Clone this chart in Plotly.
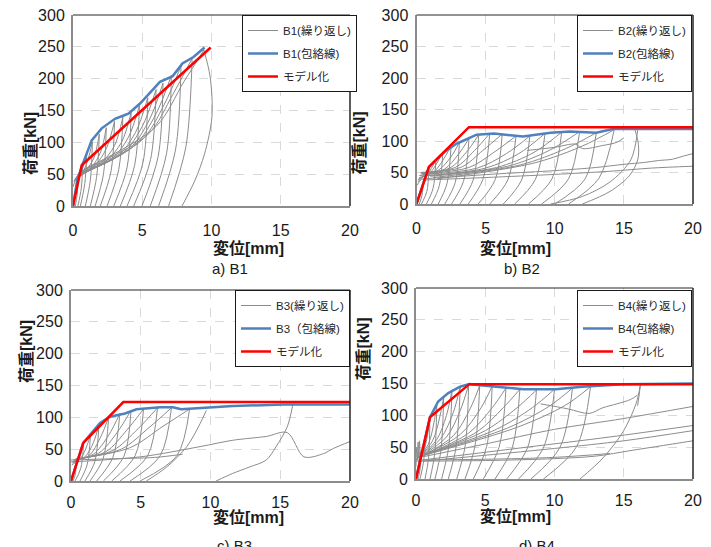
import plotly.graph_objects as go

# page is 711x547; the html body has an 8px margin, so the figure itself is 703x539
PAGE_W, PAGE_H = 711, 547
OFF = 8
W, H = PAGE_W - OFF, PAGE_H - OFF

# ---------------- data ----------------
names = ["B1", "B2", "B3", "B4"]
panel_labels = ["a) B1", "b) B2", "c) B3", "d) B4"]
legend_cyc = ["B1(繰り返し)", "B2(繰り返し)", "B3(繰り返し)", "B4(繰り返し)"]
legend_env = ["B1(包絡線)", "B2(包絡線)", "B3（包絡線)", "B4(包絡線)"]
legend_model = "モデル化"

x_ticks = [0, 5, 10, 15, 20]
y_ticks = [0, 50, 100, 150, 200, 250, 300]

# envelopes (blue)
B1_env_x = [0, 0.3, 0.72, 1.35, 2.07, 3.03, 3.75, 4.0, 4.84, 5.5, 6.28, 7.2, 7.9, 8.7, 9.5]
B1_env_y = [0, 40, 67, 103, 122, 137, 143, 145, 161, 176, 195, 204, 224, 234, 249]
B2_env_x = [0, 0.9, 2.0, 2.9, 3.14, 4.35, 5.6, 6.5, 7.7, 9.7, 11.1, 13.0, 14.2, 20]
B2_env_y = [0, 59, 82, 96, 98, 110, 112, 110, 107, 113, 115, 113, 119, 119]
B3_env_x = [0, 0.88, 2.08, 2.8, 3.87, 4.7, 6.38, 7.3, 7.9, 9.7, 11.6, 15.2, 20]
B3_env_y = [0, 60, 91, 101, 106, 112.6, 115.7, 115.7, 112.6, 115.7, 117.8, 120, 120]
B4_env_x = [0, 1.01, 1.6, 2.33, 3.18, 3.85, 5.8, 7.75, 10.1, 12.0, 15.0, 20]
B4_env_y = [0, 97, 121.7, 135, 145, 149, 145, 141, 141, 145, 149, 150]

# bilinear / trilinear models (red)
B1_mod_x = [0, 0.63, 9.94]
B1_mod_y = [0, 64, 249]
B2_mod_x = [0, 0.9, 3.79, 20]
B2_mod_y = [0, 59, 122, 122]
B3_mod_x = [0, 0.88, 3.75, 20]
B3_mod_y = [0, 60, 124, 124]
B4_mod_x = [0, 1.01, 3.85, 20]
B4_mod_y = [0, 97, 149, 149]

# cyclic curves (grey): each entry is one branch
B1_cyc_x = [
    [0.0, 0.2, 0.4], [0.05, 0.4, 0.7], [0.1, 0.6, 1.0], [0.1, 0.8, 1.4],
    [0.15, 1.0, 1.5, 1.9], [0.2, 1.3, 2.0, 2.4], [0.2, 1.6, 2.4, 3.0],
    [0.25, 2.0, 3.0, 3.6], [0.3, 2.4, 3.5, 4.2], [0.3, 2.8, 4.0, 4.8],
    [0.35, 3.2, 4.5, 5.4], [0.4, 3.6, 5.0, 6.0], [0.45, 4.0, 5.5, 6.5],
    [0.5, 4.4, 6.0, 7.1], [0.6, 4.9, 6.6, 7.8], [0.8, 5.4, 7.2, 8.6],
    [1.0, 6.0, 8.0, 9.45],
    [0.4, 0.3, 0.17], [0.7, 0.6, 0.35], [1.0, 0.85, 0.53], [1.4, 1.25, 0.89],
    [1.9, 1.7, 1.25], [2.4, 2.2, 1.6], [3.0, 2.75, 1.97], [3.6, 3.3, 2.46],
    [4.2, 3.9, 2.94], [4.8, 4.45, 3.42], [5.4, 5.05, 3.9], [6.0, 5.6, 4.38],
    [6.5, 6.15, 4.98], [7.1, 6.75, 5.58], [7.8, 7.4, 6.18], [8.6, 8.15, 6.9],
    [9.45, 9.9, 10.03, 9.5, 8.8, 7.87],
]
B1_cyc_y = [
    [30, 42, 50], [38, 50, 68], [40, 54, 85], [42, 57, 100],
    [40, 58, 75, 113], [42, 60, 85, 123], [45, 64, 90, 133],
    [45, 67, 95, 140], [47, 71, 100, 147], [48, 74, 108, 158],
    [50, 78, 115, 170], [50, 83, 125, 183], [52, 88, 135, 193],
    [52, 94, 145, 205], [55, 102, 160, 220], [58, 112, 175, 232],
    [60, 125, 195, 245],
    [50, 18, 0], [68, 28, 0], [85, 35, 0], [100, 40, 0],
    [113, 45, 0], [123, 50, 0], [133, 55, 0], [140, 57, 0],
    [147, 60, 0], [158, 64, 0], [170, 68, 0], [183, 73, 0],
    [193, 78, 0], [205, 82, 0], [220, 88, 0], [232, 93, 0],
    [245, 203, 140, 82, 40, 0],
]

B2_cyc_x = [
    [0.05, 0.3, 0.5], [0.1, 0.5, 0.9], [0.1, 0.8, 1.4], [0.15, 1.0, 1.9],
    [0.2, 1.3, 2.5], [0.2, 1.6, 2.5, 3.1], [0.25, 2.0, 3.0, 3.8],
    [0.3, 2.4, 3.6, 4.5], [0.3, 2.8, 4.2, 5.3], [0.35, 3.2, 4.8, 6.2],
    [0.4, 3.8, 5.6, 7.2], [0.5, 4.4, 6.5, 8.2], [0.6, 5.0, 7.4, 9.3],
    [0.8, 5.8, 8.5, 10.5], [1.0, 6.6, 9.6, 11.8], [1.2, 7.5, 10.8, 13.0],
    [1.5, 8.5, 12.0, 14.3],
    [0.5, 0.4, 0.2], [0.9, 0.75, 0.36], [1.4, 1.2, 0.72], [1.9, 1.65, 1.08],
    [2.5, 2.2, 1.57], [3.1, 2.8, 2.05], [3.8, 3.4, 2.53], [4.5, 4.1, 3.14],
    [5.3, 4.8, 3.74], [6.2, 5.7, 4.46], [7.2, 6.6, 5.3], [8.2, 7.6, 6.28],
    [9.3, 8.6, 7.1], [10.5, 9.8, 8.1], [11.8, 11.0, 9.05], [13.0, 12.2, 10.0],
    [14.3, 13.2, 11.0],
    [9.7, 12.0, 14.0, 15.5, 16.0],
    [15.8, 16.05, 16.0, 15.4, 14.0, 12.0],
    [0.5, 6.0, 10.0, 13.0, 15.0, 16.5, 17.5, 18.5, 19.3, 20.0],
    [0.5, 5.0, 10.0, 14.0, 17.0, 20.0],
    [8.0, 10.0, 11.5, 12.0, 13.5, 14.5, 15.0],
]
B2_cyc_y = [
    [30, 38, 40], [35, 45, 58], [38, 48, 70], [40, 50, 82],
    [42, 52, 92], [45, 54, 75, 98], [45, 55, 78, 104],
    [48, 57, 82, 110], [50, 58, 85, 112], [50, 58, 85, 111],
    [48, 58, 82, 108], [47, 57, 80, 108], [45, 57, 80, 112],
    [45, 58, 82, 114], [44, 60, 85, 115], [42, 62, 88, 113],
    [40, 65, 92, 118],
    [40, 14, 0], [58, 20, 0], [70, 25, 0], [82, 29, 0],
    [92, 32, 0], [98, 34, 0], [104, 36, 0], [110, 38, 0],
    [112, 39, 0], [111, 39, 0], [108, 38, 0], [108, 38, 0],
    [112, 39, 0], [114, 40, 0], [115, 40, 0], [113, 40, 0],
    [118, 41, 0],
    [0, 12, 35, 70, 117],
    [118, 95, 70, 45, 20, 0],
    [40, 48, 53, 58, 63, 66, 69, 71, 76, 80],
    [38, 42, 47, 52, 57, 60],
    [85, 90, 95, 88, 93, 98, 105],
]

B3_cyc_x = [
    [0.05, 0.25, 0.4], [0.1, 0.5, 0.9], [0.1, 0.7, 1.4], [0.15, 1.0, 1.6, 2.0],
    [0.2, 1.3, 2.1, 2.7], [0.2, 1.6, 2.7, 3.5], [0.25, 2.0, 3.3, 4.3],
    [0.3, 2.5, 4.0, 5.2], [0.3, 3.0, 4.8, 6.2], [0.35, 3.6, 5.6, 7.2],
    [0.4, 4.2, 6.6, 8.5],
    [0.4, 0.3, 0.15], [0.9, 0.7, 0.29], [1.4, 1.15, 0.645], [2.0, 1.7, 1.0],
    [2.7, 2.3, 1.36], [3.5, 3.0, 1.84], [4.3, 3.8, 2.32], [5.2, 4.6, 2.92],
    [6.2, 5.5, 3.51], [7.2, 6.4, 4.23], [8.5, 7.6, 4.95],
    [5.4, 6.86, 8.3, 9.25, 9.7],
    [10.4, 11.6, 12.8, 14.0, 14.7, 15.5, 15.9],
    [0.0, 5.0, 9.25, 11.6, 14.0, 15.5, 16.7, 18.1, 18.8, 20.0],
    [0.0, 3.0, 6.0, 8.0],
]
B3_cyc_y = [
    [25, 28, 30], [28, 33, 58], [30, 36, 72], [30, 38, 60, 88],
    [32, 40, 68, 100], [33, 42, 72, 106], [33, 44, 76, 111],
    [34, 46, 80, 113], [34, 48, 82, 115], [35, 50, 84, 115],
    [35, 52, 86, 113],
    [30, 10, 0], [58, 20, 0], [72, 25, 0], [88, 30, 0],
    [100, 35, 0], [106, 37, 0], [111, 39, 0], [113, 40, 0],
    [115, 40, 0], [115, 40, 0], [113, 40, 0],
    [0, 22, 54, 90, 111],
    [0, 12, 22, 33, 54, 85, 120],
    [30, 38, 54, 64, 70, 76, 38, 43, 51, 62],
    [33, 35, 37, 42],
]

B4_cyc_x = [
    [0.05, 0.2, 0.4], [0.05, 0.4, 0.7], [0.1, 0.6, 1.0], [0.1, 0.9, 1.5],
    [0.15, 1.2, 2.0], [0.2, 1.5, 2.2, 2.6], [0.2, 1.8, 2.7, 3.2],
    [0.25, 2.2, 3.2, 3.8], [0.3, 2.7, 3.9, 4.6], [0.3, 3.2, 4.7, 5.5],
    [0.35, 3.8, 5.5, 6.5], [0.4, 4.4, 6.3, 7.5], [0.45, 5.0, 7.3, 8.7],
    [0.5, 5.8, 8.4, 10.0], [0.6, 6.6, 9.6, 11.3], [0.7, 7.4, 10.8, 12.6],
    [0.4, 0.3, 0.15], [0.7, 0.53, 0.29], [1.0, 0.9, 0.65], [1.5, 1.35, 1.01],
    [2.0, 1.8, 1.37], [2.6, 2.35, 1.85], [3.2, 2.9, 2.33], [3.8, 3.55, 2.94],
    [4.6, 4.25, 3.54], [5.5, 5.1, 4.14], [6.5, 6.0, 4.86], [7.5, 6.95, 5.7],
    [8.7, 8.05, 6.55], [10.0, 9.2, 7.4], [11.3, 10.4, 8.3], [12.6, 11.6, 9.2],
    [11.84, 13.5, 14.97, 15.9, 16.2],
    [16.2, 16.1, 16.0],
    [9.0, 11.0, 12.5, 13.5, 14.5, 15.5, 16.0],
    [0.5, 5.0, 10.0, 15.0, 20.0],
    [0.5, 8.0, 14.0, 20.0],
    [0.5, 10.0, 15.0, 20.0],
    [0.0, 5.0, 10.0, 13.0, 15.6, 20.0],
    [0.0, 5.0, 10.0, 14.0],
    [0.0, 0.05, 0.1, 0.15, 0.2, 0.25, 0.3],
]
B4_cyc_y = [
    [30, 38, 45], [30, 42, 70], [32, 48, 92], [32, 55, 115],
    [33, 60, 128], [33, 62, 100, 140], [33, 64, 105, 146],
    [34, 66, 108, 148], [34, 68, 110, 147], [35, 70, 112, 146],
    [35, 72, 112, 143], [36, 74, 112, 141], [36, 76, 112, 140],
    [37, 78, 112, 141], [38, 80, 114, 143], [38, 82, 116, 145],
    [45, 16, 0], [70, 25, 0], [92, 32, 0], [115, 40, 0],
    [128, 45, 0], [140, 49, 0], [146, 51, 0], [148, 52, 0],
    [147, 51, 0], [146, 51, 0], [143, 50, 0], [141, 49, 0],
    [140, 49, 0], [141, 49, 0], [143, 50, 0], [145, 51, 0],
    [0, 33, 75, 119, 148],
    [148, 130, 115],
    [118, 110, 103, 112, 118, 125, 132],
    [35, 55, 78, 95, 114],
    [30, 50, 66, 84],
    [28, 48, 60, 76],
    [28, 29, 32, 36, 45, 60],
    [30, 31, 34, 40],
    [20, 50, 30, 58, 35, 60, 40],
]

cyc_x = [B1_cyc_x, B2_cyc_x, B3_cyc_x, B4_cyc_x]
cyc_y = [B1_cyc_y, B2_cyc_y, B3_cyc_y, B4_cyc_y]
env_x = [B1_env_x, B2_env_x, B3_env_x, B4_env_x]
env_y = [B1_env_y, B2_env_y, B3_env_y, B4_env_y]
mod_x = [B1_mod_x, B2_mod_x, B3_mod_x, B4_mod_x]
mod_y = [B1_mod_y, B2_mod_y, B3_mod_y, B4_mod_y]

# ---------------- layout (page-pixel boxes of plot areas) ----------------
boxes = [(73, 350, 15, 206), (416.5, 693, 15, 204), (71, 350, 290, 481), (416, 693, 288, 479)]
ytitle_pos = [(20, 110), (359, 110), (16, 385), (363, 383)]
xtitle_pos = [(211, 248), (553, 248), (211, 528), (553, 527)]
label_pos = [(210, 268), (542, 268), (215, 556), (557, 556)]
legend_pos = [(357, 15), (692, 15), (350, 290), (692, 290)]
xtick_standoff = [9, 9, 6, 6]


def px(v):
    return (v - OFF) / W


def py(v):
    return 1 - (v - OFF) / H


fig = go.Figure()
TEXT_FONT = "Liberation Sans, Arial, Noto Sans CJK JP, sans-serif"
legend_ids = ["legend", "legend2", "legend3", "legend4"]

for i in range(4):
    sx = "" if i == 0 else str(i + 1)
    xa, ya = "x" + sx, "y" + sx
    lg = legend_ids[i]
    gx, gy = [], []
    for bx, by in zip(cyc_x[i], cyc_y[i]):
        gx += bx + [None]
        gy += by + [None]
    fig.add_trace(go.Scatter(x=gx, y=gy, mode="lines", name=legend_cyc[i],
                             line=dict(color="#8c8c8c", width=1, shape="spline", smoothing=0.9),
                             connectgaps=False, xaxis=xa, yaxis=ya, legend=lg,
                             legendgroup=f"g{i}a"))
    fig.add_trace(go.Scatter(x=env_x[i], y=env_y[i], mode="lines", name=legend_env[i],
                             line=dict(color="#4f81bd", width=2.5),
                             xaxis=xa, yaxis=ya, legend=lg, legendgroup=f"g{i}b"))
    fig.add_trace(go.Scatter(x=mod_x[i], y=mod_y[i], mode="lines", name=legend_model,
                             line=dict(color="#ff0000", width=2.5),
                             xaxis=xa, yaxis=ya, legend=lg, legendgroup=f"g{i}c"))

layout = dict(
    template="none",
    width=W, height=H, margin=dict(l=0, r=0, t=0, b=0, autoexpand=False),
    paper_bgcolor="white", plot_bgcolor="white", showlegend=True,
    font=dict(family=TEXT_FONT, color="#262626"),
)
shapes, annotations = [], []
for i in range(4):
    x0, x1, y0, y1 = boxes[i]
    sx = "" if i == 0 else str(i + 1)
    axis_common = dict(showgrid=True, gridcolor="#d9d9d9", griddash="dash", gridwidth=1,
                       zeroline=False, showline=True, linecolor="#8c8c8c", linewidth=2,
                       ticks="", automargin=False, ticklabeloverflow="allow",
                       tickfont=dict(family=TEXT_FONT, size=16, color="#1a1a1a"),
                       fixedrange=True)
    layout["xaxis" + sx] = dict(axis_common, domain=[px(x0), px(x1)], range=[0, 20],
                                tickvals=x_ticks, anchor="y" + sx,
                                ticklabelstandoff=xtick_standoff[i])
    layout["yaxis" + sx] = dict(axis_common, domain=[py(y1), py(y0)], range=[0, 300],
                                tickvals=y_ticks, anchor="x" + sx, ticklabelstandoff=3)
    xr, yr = "x" + sx + " domain", "y" + sx + " domain"
    shapes.append(dict(type="line", xref=xr, yref=yr, x0=0, x1=1, y0=1, y1=1,
                       line=dict(color="#262626", width=1)))
    shapes.append(dict(type="line", xref=xr, yref=yr, x0=1, x1=1, y0=0, y1=1,
                       line=dict(color="#262626", width=1.5)))
    tx, ty = ytitle_pos[i]
    annotations.append(dict(text="<b>荷重[kN]</b>", x=px(tx), y=py(ty), xref="paper", yref="paper",
                            showarrow=False, textangle=-90,
                            font=dict(family=TEXT_FONT, size=16, color="#1a1a1a")))
    tx, ty = xtitle_pos[i]
    annotations.append(dict(text="<b>変位[mm]</b>", x=px(tx), y=py(ty), xref="paper", yref="paper",
                            showarrow=False, font=dict(family=TEXT_FONT, size=16, color="#1a1a1a")))
    tx, ty = label_pos[i]
    annotations.append(dict(text=panel_labels[i], x=px(tx), y=py(ty), xref="paper", yref="paper",
                            showarrow=False, font=dict(family=TEXT_FONT, size=15, color="#1a1a1a")))
    lx, ly = legend_pos[i]
    layout[legend_ids[i]] = dict(x=px(lx), y=py(ly), xanchor="right", yanchor="top",
                                 xref="paper", yref="paper",
                                 bgcolor="white", bordercolor="#1a1a1a", borderwidth=1,
                                 font=dict(family=TEXT_FONT, size=11.5, color="#262626"),
                                 itemwidth=30, traceorder="grouped", tracegroupgap=4)
layout["shapes"] = shapes
layout["annotations"] = annotations
fig.update_layout(**layout)

fig.write_html("out.html")
